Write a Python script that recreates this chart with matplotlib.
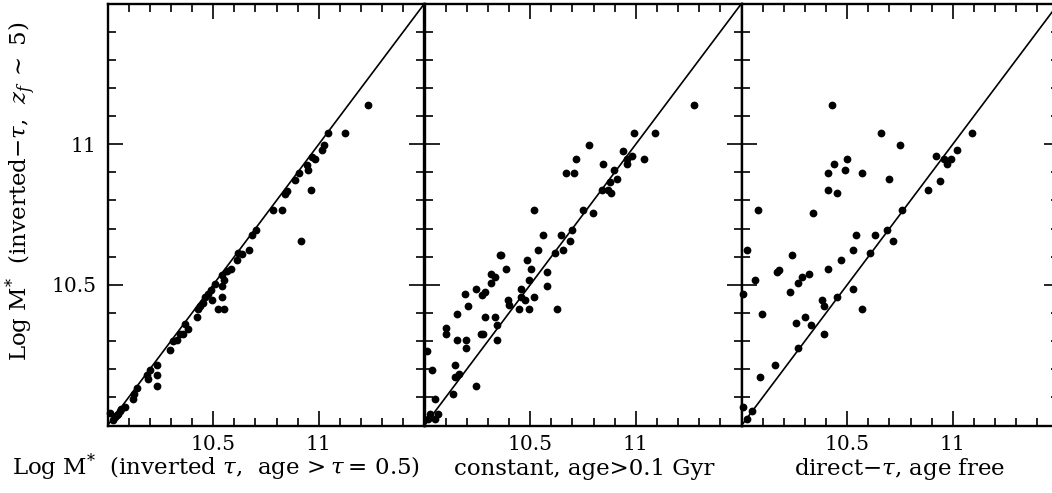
import matplotlib
matplotlib.use("Agg")
import matplotlib.pyplot as plt
from matplotlib.ticker import MultipleLocator, FixedLocator

plt.rcParams['font.family'] = ['DejaVu Serif']
plt.rcParams['mathtext.fontset'] = 'dejavuserif'

# ---- data ----
p1_x = [11.235, 11.122, 11.043, 11.024, 11.014, 10.983, 10.967, 10.943, 10.948, 10.904,
        10.888, 10.964, 10.848, 10.840, 10.785, 10.825, 10.916, 10.701, 10.682, 10.670,
        10.635, 10.619, 10.611, 10.585, 10.564, 10.543, 10.553, 10.543, 10.509, 10.540,
        10.521, 10.553, 10.490, 10.477, 10.461, 10.493, 10.453, 10.438, 10.430, 10.422,
        10.367, 10.382, 10.359, 10.343, 10.327, 10.311, 10.295, 10.232, 10.201, 10.193,
        10.232, 10.232, 10.141, 10.126, 10.122, 10.082, 10.066, 10.051, 10.035, 10.011,
        10.185, 10.045, 10.060, 10.025]
p1_y = [11.138, 11.038, 11.038, 10.996, 10.979, 10.949, 10.955, 10.925, 10.907, 10.898,
        10.872, 10.836, 10.834, 10.824, 10.765, 10.767, 10.656, 10.696, 10.676, 10.625,
        10.611, 10.614, 10.587, 10.558, 10.549, 10.534, 10.516, 10.495, 10.504, 10.457,
        10.415, 10.415, 10.483, 10.469, 10.457, 10.445, 10.435, 10.423, 10.415, 10.386,
        10.362, 10.344, 10.326, 10.326, 10.305, 10.302, 10.267, 10.214, 10.196, 10.166,
        10.181, 10.142, 10.134, 10.113, 10.095, 10.065, 10.059, 10.042, 10.030, 10.044,
        10.178, 10.036, 10.050, 10.020]

p2_x = [11.274, 11.092, 10.989, 10.778, 10.938, 10.717, 10.981, 11.041, 10.957, 10.960,
        10.847, 10.897, 10.668, 10.707, 10.910, 10.878, 10.839, 10.867, 10.881, 10.748,
        10.799, 10.517, 10.696, 10.646, 10.559, 10.688, 10.657, 10.538, 10.617, 10.356,
        10.364, 10.487, 10.384, 10.506, 10.578, 10.316, 10.335, 10.316, 10.495, 10.456,
        10.578, 10.245, 10.285, 10.274, 10.193, 10.456, 10.517, 10.475, 10.396, 10.399,
        10.206, 10.446, 10.495, 10.627, 10.155, 10.285, 10.335, 10.345, 10.103, 10.103,
        10.269, 10.277, 10.155, 10.195, 10.345, 10.195, 10.013, 10.142, 10.161, 10.142,
        10.035, 10.245, 10.134, 10.052, 10.024, 10.063, 10.016, 10.051]
p2_y = [11.138, 11.038, 11.038, 10.996, 10.976, 10.947, 10.957, 10.947, 10.947, 10.928,
        10.928, 10.907, 10.898, 10.898, 10.875, 10.866, 10.836, 10.836, 10.827, 10.767,
        10.756, 10.767, 10.696, 10.676, 10.676, 10.656, 10.625, 10.625, 10.614, 10.605,
        10.605, 10.587, 10.555, 10.555, 10.546, 10.537, 10.528, 10.507, 10.516, 10.486,
        10.495, 10.486, 10.474, 10.465, 10.466, 10.457, 10.457, 10.445, 10.445, 10.427,
        10.425, 10.415, 10.415, 10.415, 10.395, 10.386, 10.386, 10.359, 10.346, 10.324,
        10.326, 10.324, 10.305, 10.305, 10.305, 10.275, 10.265, 10.214, 10.184, 10.174,
        10.196, 10.142, 10.113, 10.095, 10.042, 10.042, 10.024, 10.024]

p3_x = [10.430, 10.660, 11.092, 10.750, 11.022, 10.921, 10.959, 10.991, 10.972, 10.501,
        10.439, 10.490, 10.411, 10.570, 10.700, 10.940, 10.882, 10.411, 10.450, 10.079,
        10.761, 10.340, 10.687, 10.540, 10.632, 10.719, 10.027, 10.529, 10.608, 10.237,
        10.469, 10.411, 10.169, 10.179, 10.284, 10.321, 10.066, 10.269, 10.529, 10.229,
        10.008, 10.450, 10.379, 10.390, 10.570, 10.098, 10.300, 10.258, 10.327, 10.390,
        10.269, 10.158, 10.087, 10.008, 10.051, 10.027]
p3_y = [11.138, 11.038, 11.038, 10.996, 10.979, 10.957, 10.947, 10.947, 10.928, 10.947,
        10.928, 10.907, 10.898, 10.898, 10.875, 10.868, 10.836, 10.836, 10.827, 10.767,
        10.767, 10.756, 10.696, 10.676, 10.676, 10.656, 10.625, 10.625, 10.614, 10.605,
        10.587, 10.555, 10.546, 10.554, 10.528, 10.537, 10.516, 10.507, 10.486, 10.474,
        10.466, 10.457, 10.445, 10.425, 10.415, 10.395, 10.386, 10.364, 10.356, 10.326,
        10.275, 10.214, 10.174, 10.065, 10.053, 10.024]

panel_x = [p1_x, p2_x, p3_x]
panel_y = [p1_y, p2_y, p3_y]
xlabels = [r"Log M$^{*}$  (inverted $\tau$,  age$\,>\tau=\,$0.5)",
           "constant, age>0.1 Gyr",
           r"direct$-\tau$, age free"]
ylabel = r"Log M$^{*}$  (inverted$-\tau$,  $z_{f}\;\sim\;$5)"
lims = [10.0, 11.5]
major_ticks = [10.5, 11.0]
tick_labels = ["10.5", "11"]

W, H = 1052, 493
fig = plt.figure(figsize=(W / 100, H / 100), dpi=100)

left_px = [107.5, 424.5, 741.5]
width_px = 317
top_px, bot_px = 3.5, 425.5
FS = 14.5
LFS = 16.5

for i in range(3):
    ax = fig.add_axes([left_px[i] / W, 1 - bot_px / H, width_px / W, (bot_px - top_px) / H])
    ax.plot(lims, lims, color='black', lw=1.2, zorder=2)
    ax.plot(panel_x[i], panel_y[i], 'o', color='black', ms=5.6, mew=0,
            clip_on=False, zorder=3)
    ax.set_xlim(lims)
    ax.set_ylim(lims)
    ax.xaxis.set_major_locator(FixedLocator(major_ticks))
    ax.yaxis.set_major_locator(FixedLocator(major_ticks))
    ax.xaxis.set_minor_locator(MultipleLocator(0.1))
    ax.yaxis.set_minor_locator(MultipleLocator(0.1))
    ax.tick_params(which='both', direction='in', top=True, right=True, width=1.2,
                   labelsize=FS)
    ax.tick_params(which='major', length=11)
    ax.tick_params(which='minor', length=5.5)
    ax.tick_params(axis='x', pad=6.5)
    ax.tick_params(axis='y', pad=8)
    ax.set_xticklabels(tick_labels)
    if i == 0:
        ax.set_yticklabels(tick_labels)
    else:
        ax.set_yticklabels([])
    for s in ax.spines.values():
        s.set_linewidth(1.7)

fig.text(216 / W, 1 - 475 / H, xlabels[0], ha='center', va='baseline', fontsize=LFS)
fig.text(584 / W, 1 - 475 / H, xlabels[1], ha='center', va='baseline', fontsize=LFS)
fig.text(900 / W, 1 - 475 / H, xlabels[2], ha='center', va='baseline', fontsize=LFS)
fig.text(21 / W, 1 - 191 / H, ylabel, ha='center', va='center', rotation=90, fontsize=LFS)

fig.savefig("out.png", dpi=100)
